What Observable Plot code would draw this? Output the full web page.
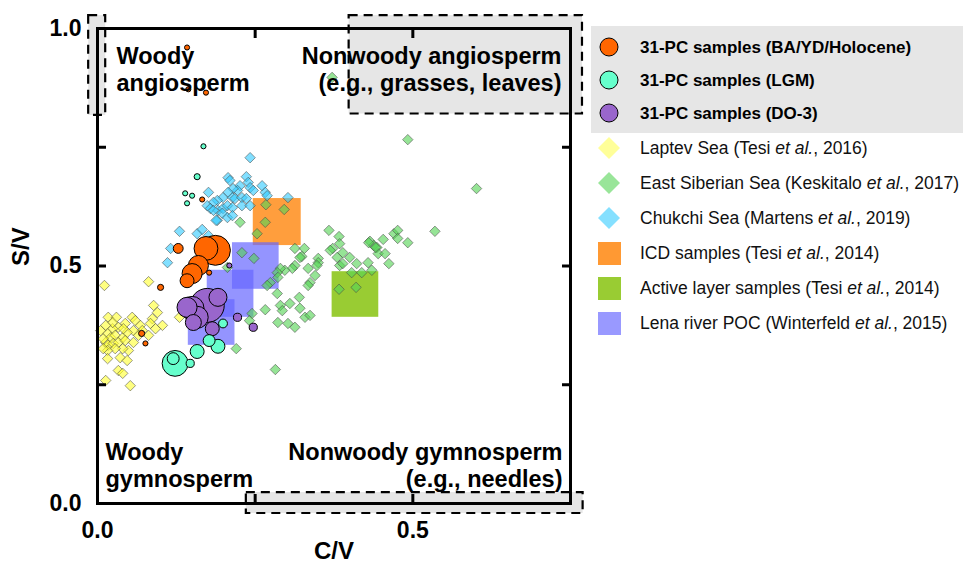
<!DOCTYPE html>
<html><head><meta charset="utf-8">
<script src="https://cdn.jsdelivr.net/npm/d3@7"></script>
<script src="https://cdn.jsdelivr.net/npm/@observablehq/plot@0.6"></script>
<style>
body{margin:0;background:#fff;font-family:"Liberation Sans",Arial,sans-serif;}
#wrap{position:relative;width:963px;height:570px;overflow:hidden;}
#wrap svg{position:absolute;left:0;top:0;overflow:visible;}
</style></head><body><div id="wrap"></div>
<script>
// ---------- data (C/V, S/V) ----------
const laptevC = [0.011,0.081,0.089,0.095,0.087,0.084,0.103,0.092,0.130,0.081,0.017,0.030,0.044,0.055,0.060,0.068,0.071,0.057,0.033,0.024,0.016,0.021,0.028,0.040,0.047,0.013,0.017,0.025,0.033,0.044,0.049,0.040,0.028,0.016,0.009,0.016,0.036,0.047,0.033,0.040,0.013,0.052,0.057,0.009,0.041,0.005,0.024,0.065,0.013];
const laptevS = [0.459,0.467,0.417,0.402,0.389,0.379,0.375,0.368,0.392,0.354,0.392,0.392,0.379,0.392,0.385,0.375,0.364,0.364,0.371,0.368,0.358,0.349,0.354,0.349,0.360,0.339,0.333,0.337,0.339,0.343,0.322,0.326,0.326,0.322,0.326,0.305,0.307,0.301,0.280,0.274,0.259,0.248,0.339,0.347,0.368,0.364,0.381,0.354,0.375];

const eastSibC = [0.372,0.492,0.601,0.226,0.267,0.296,0.266,0.253,0.367,0.383,0.384,0.373,0.369,0.313,0.328,0.432,0.438,0.443,0.453,0.470,0.476,0.476,0.492,0.535,0.350,0.324,0.400,0.380,0.445,0.456,0.229,0.248,0.321,0.350,0.348,0.334,0.345,0.313,0.309,0.297,0.290,0.285,0.286,0.274,0.269,0.285,0.305,0.320,0.290,0.293,0.266,0.321,0.337,0.334,0.329,0.337,0.286,0.302,0.313,0.245,0.241,0.220,0.282,0.384,0.411,0.429,0.403,0.419,0.435,0.462,0.383,0.410,0.206,0.389,0.389,0.430,0.441];
const eastSibS = [0.897,0.766,0.663,0.592,0.629,0.619,0.592,0.568,0.575,0.562,0.547,0.537,0.533,0.537,0.537,0.552,0.543,0.539,0.556,0.568,0.575,0.558,0.549,0.573,0.516,0.520,0.518,0.518,0.526,0.526,0.528,0.516,0.518,0.507,0.501,0.495,0.480,0.501,0.495,0.491,0.495,0.486,0.476,0.465,0.459,0.442,0.421,0.434,0.417,0.406,0.408,0.411,0.465,0.459,0.392,0.396,0.381,0.379,0.371,0.400,0.385,0.326,0.282,0.501,0.505,0.507,0.486,0.486,0.491,0.505,0.451,0.455,0.497,0.528,0.505,0.549,0.539];

const chukchiC = [0.242,0.207,0.210,0.236,0.226,0.239,0.242,0.247,0.261,0.266,0.269,0.222,0.215,0.207,0.199,0.214,0.218,0.229,0.236,0.190,0.184,0.176,0.174,0.179,0.191,0.199,0.206,0.214,0.229,0.242,0.198,0.206,0.214,0.190,0.184,0.302,0.130,0.158,0.166,0.176,0.111,0.116,0.188];
const chukchiS = [0.728,0.686,0.680,0.688,0.669,0.676,0.665,0.659,0.669,0.655,0.648,0.659,0.663,0.655,0.644,0.644,0.642,0.644,0.642,0.638,0.634,0.655,0.627,0.621,0.617,0.621,0.627,0.623,0.627,0.627,0.611,0.602,0.606,0.596,0.617,0.644,0.573,0.568,0.577,0.564,0.507,0.537,0.596];

// reference end-member boxes: C/V range, S/V range
const boxName = ["ICD","Active layer","Lena","Lena","Lena"];
const boxC1 = [0.247,0.372,0.214,0.174,0.144];
const boxC2 = [0.323,0.446,0.288,0.248,0.218];
const boxS1 = [0.543,0.392,0.451,0.392,0.333];
const boxS2 = [0.642,0.488,0.549,0.491,0.429];

// 31-PC samples: C/V, S/V, relative sample weight (circle size)
const holoC = [0.187,0.172,0.160,0.150,0.142,0.128,0.177,0.100,0.070,0.076,0.166,0.142,0.144,0.172];
const holoS = [0.533,0.537,0.501,0.484,0.469,0.537,0.486,0.455,0.358,0.337,0.640,0.960,0.872,0.865];
const holoW = [8.8,7.0,5.9,5.9,4.1,2.9,1.5,1.8,1.8,1.5,1.5,1.5,1.5,1.5];

const lgmC = [0.123,0.120,0.147,0.158,0.177,0.191,0.199,0.168,0.158,0.139,0.150,0.142];
const lgmS = [0.295,0.305,0.295,0.320,0.343,0.331,0.379,0.752,0.688,0.653,0.648,0.632];
const lgmW = [7.6,3.5,2.4,4.1,3.5,4.1,2.6,1.5,1.8,1.5,1.5,1.5];

const do3C = [0.174,0.150,0.142,0.158,0.152,0.182,0.191,0.222,0.247,0.209];
const do3S = [0.417,0.411,0.413,0.392,0.381,0.368,0.434,0.392,0.371,0.501];
const do3W = [10,7.0,5.9,6.5,4.7,4.1,5.3,2.4,2.4,1.5];

// dashed zone boxes (C/V range, S/V range)
const zoneC1 = [-0.014,0.399,0.236];
const zoneC2 = [0.013,0.769,0.770];
const zoneS1 = [0.817,0.820,-0.021];
const zoneS2 = [1.027,1.027,0.023];

const quadLabels = ["Woody\nangiosperm","Nonwoody angiosperm\n(e.g., grasses, leaves)","Woody\ngymnosperm","Nonwoody gymnosperm\n(e.g., needles)"];
const quadAnchors = ["top-left","top-right","bottom-left","bottom-right"];

const xTickLabels = [0,0.5];
const yTickLabels = [0,0.5,1];
const innerTicksX = [0.25,0.5];
const innerTicksY = [0.25,0.5,0.75];

const legendBold = ["31-PC samples (BA/YD/Holocene)","31-PC samples (LGM)","31-PC samples (DO-3)"];
const legendSeries = ["Laptev Sea","East Siberian Sea","Chukchi Sea","ICD samples","Active layer samples","Lena river POC"];
const legendAuthor = ["Tesi","Keskitalo","Martens","Tesi","Tesi","Winterfeld"];
const legendYear = [2016,2017,2019,2014,2014,2015];

// ---------- styles ----------
const col = {holo:"#ff6600", lgm:"#66ffcc", do3:"#9966cc", laptev:"#ffff33", esib:"#55d455", chuk:"#33ccff",
  icd:"#ff9933", active:"#99cc33", lena:"#6666ff"};
const boxFill = ["#ff9933","#99cc33","#6666ff","#6666ff","#6666ff"];
const boxOpacity = [0.95,1,0.7,0.7,0.7];

const zip2 = (a,b,extra={}) => a.map((v,i)=>({c:v, s:b[i], ...Object.fromEntries(Object.entries(extra).map(([k,arr])=>[k,arr[i]]))}));
const laptev = zip2(laptevC, laptevS);
const esib = zip2(eastSibC, eastSibS);
const chuk = zip2(chukchiC, chukchiS);
const holo = zip2(holoC, holoS, {w:holoW}).sort((a,b)=>b.w-a.w);
const lgm = zip2(lgmC, lgmS, {w:lgmW}).sort((a,b)=>b.w-a.w);
const do3 = zip2(do3C, do3S, {w:do3W}).sort((a,b)=>b.w-a.w);
const boxes = boxName.map((n,i)=>({n, c1:boxC1[i], c2:boxC2[i], s1:boxS1[i], s2:boxS2[i], f:boxFill[i], o:boxOpacity[i]}));
const zones = zoneC1.map((v,i)=>({c1:v, c2:zoneC2[i], s1:zoneS1[i], s2:zoneS2[i]}));

const diamondOpts = (fill) => ({x:"c", y:"s", symbol:"diamond2", r:4.7, fill, fillOpacity:0.62, stroke:"#444", strokeOpacity:0.6, strokeWidth:0.9});
const circleOpts = (fill) => ({x:"c", y:"s", r:"w", fill, stroke:"black", strokeWidth:1});

const quadDx = {"top-left":19,"top-right":-9,"bottom-left":8,"bottom-right":-8};
const quadDy = {"top-left":17,"top-right":17,"bottom-left":-17,"bottom-right":-17};

const marks = [
  Plot.rect(zones, {x1:"c1", x2:"c2", y1:"s1", y2:"s2", fill:"#e6e6e6", clip:false}),
  Plot.rect(boxes, {x1:"c1", x2:"c2", y1:"s1", y2:"s2", fill:"f", fillOpacity:"o"}),
  Plot.dot(laptev, diamondOpts(col.laptev)),
  Plot.dot(esib, diamondOpts(col.esib)),
  Plot.dot(chuk, diamondOpts(col.chuk)),
  Plot.dot(do3, circleOpts(col.do3)),
  Plot.dot(lgm, circleOpts(col.lgm)),
  Plot.dot(holo, circleOpts(col.holo)),
  ...quadLabels.map((t,i)=>Plot.text([t], {text:d=>d, frameAnchor:quadAnchors[i],
      textAnchor: quadAnchors[i].endsWith("left") ? "start" : "end",
      lineAnchor: quadAnchors[i].startsWith("top") ? "top" : "bottom",
      lineHeight:1.12, dx:quadDx[quadAnchors[i]], dy:quadDy[quadAnchors[i]],
      fontSize:23.5, fontWeight:"bold", fill:"black"})),
  Plot.rect(zones, {x1:"c1", x2:"c2", y1:"s1", y2:"s2", fill:"none", stroke:"black", strokeWidth:2.2, strokeDasharray:"9,6", clip:false}),
  Plot.frame({stroke:"black", strokeWidth:3}),
  Plot.axisY({anchor:"left", ticks:yTickLabels, tickFormat:d3.format(".1f"), tickSize:0, tickPadding:16, fontSize:23, fontWeight:"bold", label:null}),
  Plot.axisX({anchor:"bottom", ticks:xTickLabels, tickFormat:d3.format(".1f"), tickSize:0, tickPadding:18, fontSize:23, fontWeight:"bold", label:null}),
  ...["left","right"].map(a=>Plot.axisY({anchor:a, ticks:innerTicksY, tickSize:-9, strokeWidth:3, tickFormat:()=>"", label:null})),
  ...["top","bottom"].map(a=>Plot.axisX({anchor:a, ticks:innerTicksX, tickSize:-9, strokeWidth:3, tickFormat:()=>"", label:null})),
  Plot.text(["C/V"], {text:d=>d, frameAnchor:"bottom", dy:55, fontSize:24, fontWeight:"bold", fill:"black"}),
  Plot.text(["S/V"], {text:d=>d, frameAnchor:"left", dx:-76, rotate:-90, fontSize:24, fontWeight:"bold", fill:"black"})
];

const chart = Plot.plot({
  width:963, height:570,
  marginLeft:97, marginRight:393, marginTop:28, marginBottom:67,
  x:{domain:[0,0.75]}, y:{domain:[0,1]},
  r:{type:"linear", domain:[0,10], range:[0,17]},
  style:{fontFamily:'"Liberation Sans", Arial, sans-serif', color:"black", background:"transparent", overflow:"visible"},
  marks
});
const wrap = document.getElementById("wrap");
wrap.appendChild(chart);

// ---------- legend ----------
const lg = d3.select(wrap).append("svg").attr("width",963).attr("height",570)
  .style("font-family",'"Liberation Sans", Arial, sans-serif');
lg.append("rect").attr("x",591).attr("y",26).attr("width",372).attr("height",107).attr("fill","#e6e6e6");
const boldCols = [col.holo, col.lgm, col.do3];
legendBold.forEach((t,i)=>{
  const y = 47 + i*33;
  lg.append("circle").attr("cx",609).attr("cy",y).attr("r",9).attr("fill",boldCols[i]).attr("stroke","black").attr("stroke-width",1);
  lg.append("text").attr("x",640).attr("y",y).attr("dy","0.35em").attr("font-size",17).attr("font-weight","bold").text(t);
});
const legFill = ["#ffff99","#99e599","#85e0ff","#ff9933","#99cc33","#9999ff"];
const legShape = ["diamond","diamond","diamond","square","square","square"];
legendSeries.forEach((n,i)=>{
  const y = 148 + i*35;
  if (legShape[i]==="diamond") {
    lg.append("path").attr("d",`M609,${y-11}L620,${y}L609,${y+11}L598,${y}Z`).attr("fill",legFill[i]);
  } else {
    lg.append("rect").attr("x",598).attr("y",y-11).attr("width",23).attr("height",23).attr("fill",legFill[i]);
  }
  const tx = lg.append("text").attr("x",640).attr("y",y).attr("dy","0.35em").attr("font-size",17.5).attr("fill","#111");
  tx.append("tspan").text(`${n} (${legendAuthor[i]} `);
  tx.append("tspan").attr("font-style","italic").text("et al.");
  tx.append("tspan").text(`, ${legendYear[i]})`);
});
</script></body></html>
